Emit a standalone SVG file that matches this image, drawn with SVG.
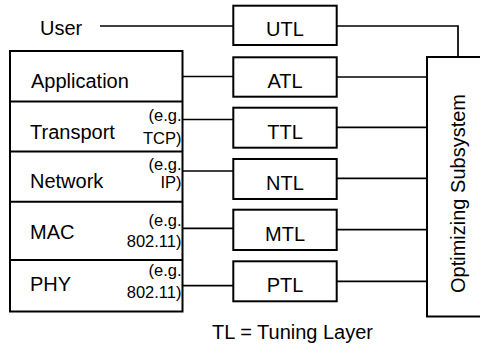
<svg xmlns="http://www.w3.org/2000/svg" width="480" height="348" viewBox="0 0 480 348">
  <style>
    text { font-family: "Liberation Sans", Arial, Helvetica, sans-serif; fill: #000; }
    .lbl { font-size: 20px; }
    .tl { font-size: 20px; text-anchor: middle; }
    .eg { font-size: 16.5px; text-anchor: end; }
    .box { fill: #fff; stroke: #000; stroke-width: 2; }
    .div { stroke: #000; stroke-width: 2; fill: none; }
    .wire { stroke: #000; stroke-width: 1.7; fill: none; }
  </style>
  <rect width="480" height="348" fill="#fff"/>

  <!-- connectors -->
  <g id="connectors">
    <line class="wire" x1="100" y1="26" x2="233" y2="26"/>
    <polyline class="wire" points="337,26 458,26 458,57"/>
    <line class="wire" x1="183" y1="76.5" x2="233" y2="76.5"/>
    <line class="wire" x1="337" y1="77" x2="427" y2="77"/>
    <line class="wire" x1="183" y1="119.5" x2="233" y2="119.5"/>
    <line class="wire" x1="337" y1="127.3" x2="427" y2="127.3"/>
    <line class="wire" x1="183" y1="171" x2="233" y2="171"/>
    <line class="wire" x1="337" y1="178.3" x2="427" y2="178.3"/>
    <line class="wire" x1="183" y1="228.3" x2="233" y2="228.3"/>
    <line class="wire" x1="337" y1="229.7" x2="427" y2="229.7"/>
    <line class="wire" x1="183" y1="285.7" x2="233" y2="285.7"/>
    <line class="wire" x1="337" y1="281.3" x2="427" y2="281.3"/>
  </g>

  <!-- user label -->
  <g id="user">
    <text class="lbl" x="40" y="35">User</text>
  </g>

  <!-- protocol stack -->
  <g id="stack">
    <rect class="box" x="10" y="51" width="172.5" height="260.5"/>
    <line class="div" x1="10" y1="101.5" x2="182.5" y2="101.5"/>
    <line class="div" x1="10" y1="151.5" x2="182.5" y2="151.5"/>
    <line class="div" x1="10" y1="201.7" x2="182.5" y2="201.7"/>
    <line class="div" x1="10" y1="260" x2="182.5" y2="260"/>
  </g>
  <g id="application">
    <text class="lbl" x="31" y="88">Application</text>
  </g>
  <g id="transport">
    <text class="lbl" x="30" y="138.5">Transport</text>
    <text class="eg" x="181.5" y="121">(e.g.</text>
    <text class="eg" x="181.5" y="143.5">TCP)</text>
  </g>
  <g id="network">
    <text class="lbl" x="30" y="188">Network</text>
    <text class="eg" x="181.5" y="169.5">(e.g.</text>
    <text class="eg" x="181.5" y="188">IP)</text>
  </g>
  <g id="mac">
    <text class="lbl" x="30" y="239">MAC</text>
    <text class="eg" x="181.5" y="225.5">(e.g.</text>
    <text class="eg" x="181.5" y="246.5">802.11)</text>
  </g>
  <g id="phy">
    <text class="lbl" x="30" y="290.5">PHY</text>
    <text class="eg" x="181.5" y="276">(e.g.</text>
    <text class="eg" x="181.5" y="297.5">802.11)</text>
  </g>

  <!-- tuning layers -->
  <g id="utl">
    <rect class="box" x="233.3" y="5.7" width="103.4" height="39.3"/>
    <text class="tl" x="285" y="35.7">UTL</text>
  </g>
  <g id="atl">
    <rect class="box" x="233.3" y="57.3" width="103.4" height="39.4"/>
    <text class="tl" x="285" y="88.3">ATL</text>
  </g>
  <g id="ttl">
    <rect class="box" x="233.3" y="107.7" width="103.4" height="40"/>
    <text class="tl" x="285" y="139.3">TTL</text>
  </g>
  <g id="ntl">
    <rect class="box" x="233.3" y="159" width="103.4" height="40"/>
    <text class="tl" x="285" y="189.7">NTL</text>
  </g>
  <g id="mtl">
    <rect class="box" x="233.3" y="209.7" width="103.4" height="40.3"/>
    <text class="tl" x="285" y="240.7">MTL</text>
  </g>
  <g id="ptl">
    <rect class="box" x="233.3" y="261.3" width="103.4" height="40"/>
    <text class="tl" x="285" y="292.3">PTL</text>
  </g>

  <!-- optimizing subsystem -->
  <g id="optimizer">
    <rect class="box" x="427" y="57" width="60" height="259.5"/>
    <text class="lbl" font-size="21" text-anchor="middle" transform="translate(465 193.5) rotate(-90)">Optimizing Subsystem</text>
  </g>

  <!-- legend -->
  <g id="legend">
    <text class="lbl" x="212" y="339">TL = Tuning Layer</text>
  </g>
</svg>
